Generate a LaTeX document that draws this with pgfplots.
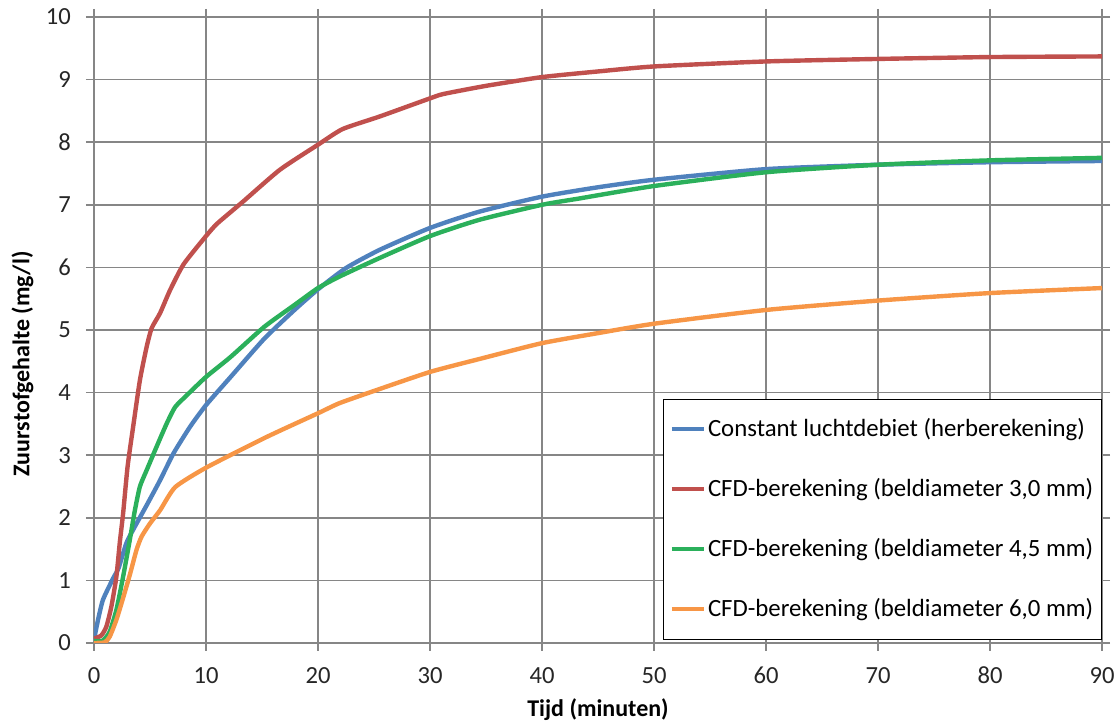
\documentclass[border=0pt]{standalone}
\usepackage{fontspec}
\setmainfont{Carlito}
\usepackage{pgfplots}
\pgfplotsset{compat=1.18}

\definecolor{cblue}{RGB}{79,129,189}
\definecolor{cred}{RGB}{192,80,77}
\definecolor{cgreen}{RGB}{43,176,91}
\definecolor{corange}{RGB}{247,150,70}
\definecolor{gridgray}{RGB}{134,134,134}

\begin{document}
\begin{tikzpicture}
\useasboundingbox (-47pt,-39.5pt) rectangle (512.5pt,321.5pt);
\begin{axis}[
  at={(0,0)}, anchor=south west,
  scale only axis, width=504pt, height=313pt,
  xmin=0, xmax=90, ymin=0, ymax=10,
  xtick={0,10,...,90}, ytick={0,1,...,10},
  grid=major,
  major grid style={gridgray, line width=0.8pt},
  axis line style={gridgray, line width=0.8pt},
  tick style={gridgray, line width=0.8pt},
  tick align=outside, major tick length=4pt,
  /pgf/number format/assume math mode=true,
  tick label style={font=\fontsize{12.3}{14}\selectfont, text=black!85},
  xticklabel style={yshift=-4.5pt},
  yticklabel style={xshift=-4pt},
  xlabel={Tijd (minuten)},
  ylabel={Zuurstofgehalte (mg/l)},
  label style={font=\fontsize{12}{14}\selectfont\bfseries},
  xlabel style={at={(axis description cs:0.5,-0.107)}, anchor=center},
  ylabel style={at={(axis description cs:-0.0709,0.4457)}, anchor=center},
  legend cell align=left,
  legend style={at={(axis description cs:0.5645,0.005)}, anchor=south west,
    draw=black, line width=0.6pt, fill=white,
    font=\fontsize{12.4}{14}\selectfont,
    inner xsep=3pt, inner ysep=0pt, row sep=0pt,
    nodes={minimum height=30pt, inner sep=1pt}},
  legend image code/.code={\draw[#1, line width=2.2pt] (0pt,0pt) -- (16pt,0pt);},
  every axis plot/.append style={line width=2.2pt, line join=round, smooth, tension=0.35},
]
% constant air flow (recalculation)
\addplot[cblue] coordinates {
(0,0.05) (0.36,0.37) (0.8,0.69) (1.7,1.03) (2.2,1.2) (2.9,1.6) (3.65,1.86)
(4.7,2.2) (5.9,2.6) (7.1,3.03) (8.6,3.46) (10,3.8) (12.2,4.25) (15.2,4.86)
(17.9,5.32) (20,5.65) (22.5,5.99) (25.5,6.28) (30,6.63) (34.4,6.89) (40,7.13)
(45,7.28) (50,7.4) (60,7.57) (70,7.64) (80,7.68) (90,7.7)};
\addlegendentry{Constant luchtdebiet (herberekening)}
% CFD, bubble diameter 3.0 mm
\addplot[cred] coordinates {
(0,0.07) (0.65,0.12) (1.1,0.26) (1.55,0.58) (2.0,1.06) (2.3,1.6) (2.6,2.07)
(3.0,2.82) (3.5,3.46) (4.1,4.2) (4.7,4.73) (5.15,5.03) (5.9,5.27) (6.8,5.64)
(8,6.05) (10,6.5) (11,6.7) (13.3,7.05) (16.6,7.56) (20,7.96) (22.2,8.21)
(25.5,8.41) (30,8.7) (31.2,8.77) (35,8.9) (40,9.04) (45,9.13) (50,9.21)
(60,9.29) (70,9.33) (80,9.36) (90,9.37)};
\addlegendentry{CFD-berekening (beldiameter 3,0 mm)}
% CFD, bubble diameter 4.5 mm
\addplot[cgreen] coordinates {
(0,0.03) (0.8,0.04) (1.4,0.18) (2.0,0.53) (2.6,1.06) (3.2,1.65) (3.65,2.12)
(4.1,2.5) (4.7,2.76) (5.6,3.14) (6.5,3.51) (7.25,3.77) (8.3,3.96) (10,4.25)
(12.2,4.57) (15.2,5.05) (17.9,5.4) (20,5.67) (22,5.86) (25.5,6.15) (30,6.5)
(34.4,6.76) (40,7.0) (43.3,7.1) (50,7.3) (60,7.52) (70,7.64) (80,7.71) (90,7.75)};
\addlegendentry{CFD-berekening (beldiameter 4,5 mm)}
% CFD, bubble diameter 6.0 mm
\addplot[corange] coordinates {
(0,0) (0.95,0.01) (1.4,0.1) (2.0,0.37) (2.6,0.72) (3.2,1.09) (3.8,1.49)
(4.25,1.7) (5.0,1.91) (5.9,2.12) (7.25,2.49) (10,2.8) (15.4,3.29) (20,3.67)
(21.9,3.83) (24.9,4.02) (30,4.33) (34.7,4.55) (40,4.79) (45,4.95) (50,5.1)
(60,5.32) (70,5.47) (80,5.59) (90,5.67)};
\addlegendentry{CFD-berekening (beldiameter 6,0 mm)}
\end{axis}
\end{tikzpicture}
\end{document}
